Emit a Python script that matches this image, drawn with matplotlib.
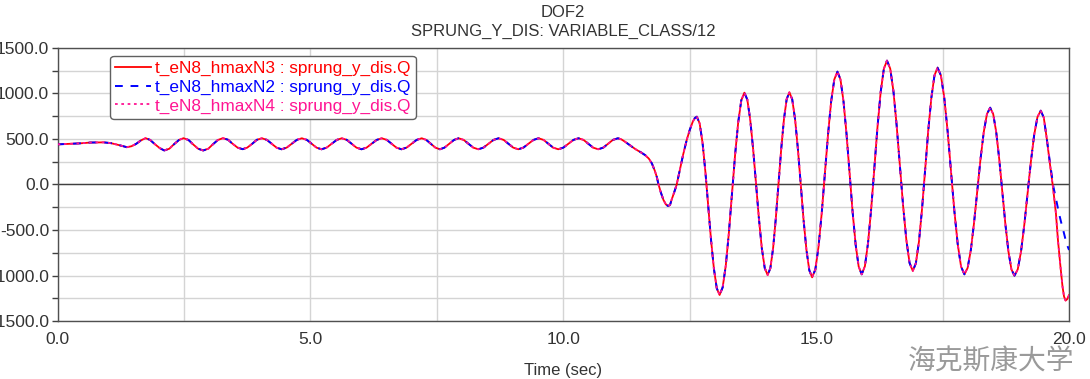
import matplotlib
matplotlib.use("Agg")
import matplotlib.pyplot as plt
from matplotlib.ticker import MultipleLocator, FormatStrFormatter

plt.rcParams['font.family'] = ['Liberation Sans', 'DejaVu Sans']

# ---- data (time in s, displacement) ----
t_common = [0.00, 0.20, 0.44, 0.65, 0.91, 1.05, 1.20, 1.37, 1.46, 1.55, 1.65, 1.74,
            1.83, 1.92, 2.02, 2.11, 2.21, 2.30, 2.40, 2.49, 2.59, 2.68, 2.78, 2.88,
            2.98, 3.07, 3.17, 3.27, 3.37, 3.46, 3.56, 3.66, 3.75, 3.85, 3.94, 4.04,
            4.14, 4.235, 4.33, 4.43, 4.53, 4.63, 4.73, 4.83, 4.93, 5.025, 5.12, 5.22,
            5.32, 5.42, 5.52, 5.62, 5.72, 5.815, 5.91, 6.01, 6.11, 6.21, 6.31, 6.41,
            6.51, 6.605, 6.70, 6.80, 6.90, 7.00, 7.10, 7.20, 7.29, 7.38, 7.47, 7.56,
            7.65, 7.745, 7.84, 7.93, 8.03, 8.125, 8.22, 8.32, 8.42, 8.52, 8.62, 8.72,
            8.82, 8.915, 9.01, 9.11, 9.21, 9.31, 9.41, 9.51, 9.61, 9.705, 9.80, 9.90,
            10.00, 10.10, 10.20, 10.30, 10.40, 10.495, 10.59, 10.69, 10.79, 10.885, 10.98, 11.08,
            11.15, 11.22, 11.29, 11.37, 11.45, 11.53, 11.62, 11.69, 11.75, 11.81, 11.85, 11.88,
            11.93, 11.98, 12.03, 12.07,
            12.11, 12.14, 12.19, 12.24, 12.30, 12.37, 12.44, 12.50, 12.56, 12.60, 12.64,
            12.696, 12.753, 12.809, 12.865, 12.921, 12.978, 13.034, 13.09,
            13.151, 13.213, 13.274, 13.335, 13.396, 13.458, 13.519, 13.58,
            13.638, 13.695, 13.753, 13.81, 13.868, 13.925, 13.983, 14.04,
            14.094, 14.148, 14.201, 14.255, 14.309, 14.363, 14.416, 14.47,
            14.526, 14.583, 14.639, 14.695, 14.751, 14.808, 14.864, 14.92,
            14.983, 15.045, 15.108, 15.17, 15.233, 15.295, 15.358, 15.42,
            15.48, 15.54, 15.60, 15.66, 15.72, 15.78, 15.84, 15.90,
            15.963, 16.025, 16.088, 16.15, 16.213, 16.275, 16.338, 16.40,
            16.464, 16.528, 16.591, 16.655, 16.719, 16.783, 16.846, 16.91,
            16.971, 17.033, 17.094, 17.155, 17.216, 17.278, 17.339, 17.40,
            17.466, 17.533, 17.599, 17.665, 17.731, 17.798, 17.864, 17.93,
            17.994, 18.058, 18.121, 18.185, 18.249, 18.313, 18.376, 18.44,
            18.50, 18.56, 18.62, 18.68, 18.74, 18.80, 18.86, 18.92,
            18.985, 19.05, 19.115, 19.18, 19.245, 19.31, 19.375, 19.44,
            19.50, 19.56]
y_common = [441, 446, 452, 461, 463, 455, 435, 410, 420, 445, 485, 509,
            490, 445, 400, 374, 393, 441, 489, 509, 489, 441, 393, 374,
            393, 441, 489, 509, 492, 448, 405, 388, 405, 448, 491, 508,
            490, 447, 405, 387, 405, 447, 490, 508, 490, 447, 405, 387,
            405, 447, 490, 508, 490, 447, 405, 387, 405, 447, 490, 508,
            490, 447, 405, 387, 405, 447, 490, 508, 490, 447, 405, 387,
            405, 447, 490, 508, 490, 447, 405, 387, 405, 447, 490, 508,
            490, 447, 405, 387, 405, 447, 490, 508, 490, 447, 405, 387,
            405, 447, 490, 508, 490, 447, 405, 387, 405, 447, 490, 508,
            495, 470, 442, 410, 380, 355, 322, 285, 233, 150, 80, 5,
            -90, -170, -220, -236,
            -225, -170, -90, -5, 150, 330, 489, 600, 690, 730, 745,
            671, 458, 141, -234, -610, -927, -1140, -1214,
            -1130, -888, -528, -102, 323, 683, 925, 1009,
            933, 715, 391, 7, -377, -701, -919, -995,
            -919, -701, -376, 9, 394, 719, 937, 1013,
            936, 715, 386, -3, -393, -722, -943, -1020,
            -934, -689, -323, 110, 543, 909, 1154, 1240,
            1155, 914, 553, 126, -300, -661, -902, -987,
            -898, -643, -263, 187, 637, 1017, 1272, 1361,
            1273, 1022, 648, 205, -237, -611, -862, -950,
            -865, -623, -261, 167, 595, 957, 1199, 1284,
            1198, 951, 583, 148, -286, -654, -901, -987,
            -917, -719, -422, -71, 279, 576, 774, 844,
            774, 574, 274, -79, -432, -732, -932, -1002,
            -933, -736, -442, -95, 251, 545, 742, 811,
            735, 500]

t_tail_n3 = [19.62, 19.68, 19.74, 19.78, 19.83, 19.87, 19.90, 19.93, 19.96, 20.00]
y_tail_n3 = [233, -20, -317, -610, -903, -1120, -1230, -1275, -1262, -1215]
t_tail_n2 = [19.62, 19.69, 19.75, 19.80, 19.85, 19.90, 19.95, 20.00]
y_tail_n2 = [250, -24, -180, -317, -430, -537, -650, -720]

t_n3 = t_common + t_tail_n3
y_n3 = y_common + y_tail_n3
t_n2 = t_common + t_tail_n2
y_n2 = y_common + y_tail_n2
t_n4 = t_common + t_tail_n3
y_n4 = y_common + y_tail_n3

labels = ["t_eN8_hmaxN3 : sprung_y_dis.Q",
          "t_eN8_hmaxN2 : sprung_y_dis.Q",
          "t_eN8_hmaxN4 : sprung_y_dis.Q"]

fig = plt.figure(figsize=(10.9, 3.79), dpi=100)
ax = fig.add_axes([0.0528, 0.153, 0.928, 0.7204])

ax.plot(t_n3, y_n3, color='#ff0000', lw=1.3, ls='-', label=labels[0], zorder=3)
ax.plot(t_n2, y_n2, color='#0000ff', lw=1.4, ls=(0, (4, 4)), label=labels[1], zorder=4)
ax.plot(t_n4, y_n4, color='#ff1493', lw=1.3, ls=(0, (1.5, 2)), label=labels[2], zorder=5)

ax.set_xlim(0, 20)
ax.set_ylim(-1500, 1500)
ax.xaxis.set_major_locator(MultipleLocator(5))
ax.xaxis.set_minor_locator(MultipleLocator(2.5))
ax.yaxis.set_major_locator(MultipleLocator(500))
ax.yaxis.set_minor_locator(MultipleLocator(250))
ax.xaxis.set_major_formatter(FormatStrFormatter('%.1f'))
ax.yaxis.set_major_formatter(FormatStrFormatter('%.1f'))
ax.grid(True, which='both', color='#d4d4d4', lw=1.0, zorder=0)
ax.set_axisbelow(True)
ax.axhline(0, color='#404040', lw=1.0, zorder=2)

ax.tick_params(axis='y', which='both', direction='out', length=4, width=1,
               color='#404040', labelsize=12.5, labelcolor='#333333', pad=2)
ax.tick_params(axis='x', which='both', length=0, labelsize=12.5,
               labelcolor='#333333', pad=8)
for s in ax.spines.values():
    s.set_color('#505050')
    s.set_linewidth(1.0)

leg = ax.legend(loc='upper left', bbox_to_anchor=(0.052, 0.971), borderaxespad=0,
                fontsize=12.4, labelcolor='linecolor', handlelength=2.1,
                handletextpad=0.2, labelspacing=0.2, borderpad=0.3,
                fancybox=True, framealpha=1, edgecolor='#606060')
leg.get_frame().set_linewidth(1.0)

fig.text(0.5165, 0.968, "DOF2", ha='center', va='center', fontsize=12, color='#333333')
fig.text(0.5165, 0.918, "SPRUNG_Y_DIS: VARIABLE_CLASS/12", ha='center', va='center',
         fontsize=12, color='#333333')
fig.text(0.5165, 0.022, "Time (sec)", ha='center', va='center', fontsize=12, color='#333333')
fig.text(0.986, 0.047, "海克斯康大学", ha='right', va='center', fontsize=20,
         color='#9a9a9a', family=['Noto Sans CJK SC', 'DejaVu Sans'])

fig.savefig("out.png", dpi=100)
